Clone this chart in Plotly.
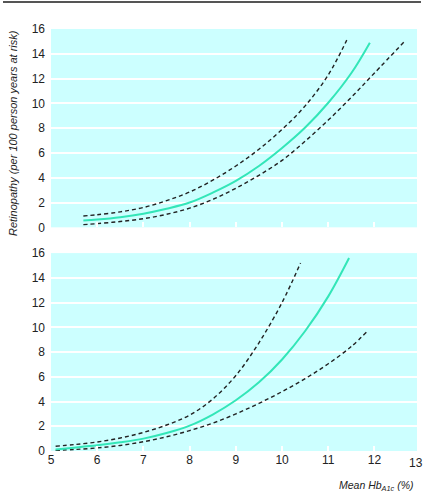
import plotly.graph_objects as go

# ---- data ----
x_ticks = [5, 6, 7, 8, 9, 10, 11, 12, 13]
y_ticks = [0, 2, 4, 6, 8, 10, 12, 14, 16]

top_mid_x = [5.7, 6.0, 6.5, 7.0, 7.5, 8.0, 8.5, 9.0, 9.5, 10.0, 10.5, 11.0, 11.5, 11.9]
top_mid_y = [0.55, 0.63, 0.82, 1.1, 1.5, 2.0, 2.8, 3.75, 4.95, 6.4, 8.05, 10.05, 12.45, 14.9]
top_up_x = [5.7, 6.0, 6.5, 7.0, 7.5, 8.0, 8.5, 9.0, 9.5, 10.0, 10.5, 11.0, 11.4]
top_up_y = [0.92, 1.02, 1.25, 1.6, 2.15, 2.85, 3.8, 4.95, 6.3, 7.9, 9.8, 12.3, 15.1]
top_lo_x = [5.7, 6.0, 6.5, 7.0, 7.5, 8.0, 8.5, 9.0, 9.5, 10.0, 10.5, 11.0, 11.5, 12.0, 12.65]
top_lo_y = [0.22, 0.3, 0.47, 0.7, 1.05, 1.55, 2.25, 3.15, 4.2, 5.4, 6.95, 8.65, 10.5, 12.45, 15.0]

bot_mid_x = [5.1, 5.5, 6.0, 6.5, 7.0, 7.5, 8.0, 8.5, 9.0, 9.5, 10.0, 10.5, 11.0, 11.45]
bot_mid_y = [0.13, 0.27, 0.46, 0.7, 1.0, 1.45, 2.05, 2.95, 4.1, 5.55, 7.4, 9.7, 12.5, 15.6]
bot_up_x = [5.1, 5.5, 6.0, 6.5, 7.0, 7.5, 8.0, 8.5, 9.0, 9.5, 10.0, 10.4]
bot_up_y = [0.38, 0.52, 0.73, 1.05, 1.5, 2.1, 2.9, 4.2, 6.1, 8.75, 12.0, 15.2]
bot_lo_x = [5.1, 5.5, 6.0, 6.5, 7.0, 7.5, 8.0, 8.5, 9.0, 9.5, 10.0, 10.5, 11.0, 11.5, 11.85]
bot_lo_y = [0.05, 0.12, 0.25, 0.45, 0.75, 1.15, 1.65, 2.25, 3.0, 3.85, 4.8, 5.85, 7.05, 8.45, 9.7]

y_title = "Retinopathy (per 100 person years at risk)"
x_title = "<i>Mean Hb<sub>A1c</sub> (%)</i>"

# ---- styles ----
FONT = "Liberation Sans, Arial, sans-serif"
BG = "#ccffff"
MID = "#33e6b8"
DASH = "#222222"

fig = go.Figure()

def add(xs, ys, axis, mid):
    if mid:
        line = dict(color=MID, width=2, shape="spline", smoothing=1)
    else:
        line = dict(color=DASH, width=1.4, dash="4px,3px", shape="spline", smoothing=1)
    fig.add_trace(go.Scatter(x=xs, y=ys, mode="lines", line=line,
                             xaxis="x" if axis == 1 else "x2",
                             yaxis="y" if axis == 1 else "y2",
                             showlegend=False, hoverinfo="skip"))

add(top_up_x, top_up_y, 1, False)
add(top_lo_x, top_lo_y, 1, False)
add(top_mid_x, top_mid_y, 1, True)
add(bot_up_x, bot_up_y, 2, False)
add(bot_lo_x, bot_lo_y, 2, False)
add(bot_mid_x, bot_mid_y, 2, True)

xr = [5, 12.92]
common_x = dict(range=xr, tickvals=x_ticks, showgrid=False, zeroline=False,
                showline=False, ticks="inside", ticklen=5, tickcolor="white",
                tickwidth=1.5, automargin=False,
                tickfont=dict(family=FONT, size=12, color="#222"))
common_y = dict(range=[0, 16], tickvals=y_ticks, showgrid=True, gridcolor="white",
                gridwidth=1.5, zeroline=False, showline=False, ticks="",
                ticklabelstandoff=5, automargin=False,
                tickfont=dict(family=FONT, size=12, color="#222"))

fig.update_layout(
    template="none",
    width=424, height=502,
    margin=dict(l=51, r=7, t=29, b=51, autoexpand=False),
    paper_bgcolor="white", plot_bgcolor=BG,
    font=dict(family=FONT, size=12, color="#222"),
    xaxis=dict(domain=[0, 1], anchor="y", showticklabels=False, **common_x),
    yaxis=dict(domain=[0.530, 1.0], anchor="x", **common_y),
    xaxis2=dict(domain=[0, 1], anchor="y2", showticklabels=True, **common_x),
    yaxis2=dict(domain=[0.0, 0.469], anchor="x2", **common_y),
)

# top rule
fig.add_shape(type="line", xref="paper", yref="paper",
              x0=(3 - 51) / 366, x1=(421 - 51) / 366,
              y0=(451 - 2) / 422, y1=(451 - 2) / 422,
              line=dict(color="#555555", width=2))

# last tick label (13) sits at the edge of the shaded area
fig.add_annotation(text="13", xref="paper", yref="paper",
                   x=(416 - 51) / 366, y=-(462.5 - 451) / 422,
                   xanchor="center", yanchor="middle", showarrow=False,
                   font=dict(family=FONT, size=12, color="#222"))

fig.add_annotation(text="<i>" + y_title + "</i>", xref="paper", yref="paper",
                   x=(12.5 - 51) / 366, y=(451 - 133.5) / 422, textangle=-90,
                   xanchor="center", yanchor="middle", showarrow=False,
                   font=dict(family=FONT, size=11, color="#222"))

fig.add_annotation(text=x_title, xref="paper", yref="paper",
                   x=(416 - 51) / 366, y=-(486 - 451) / 422,
                   xanchor="right", yanchor="middle", showarrow=False,
                   font=dict(family=FONT, size=10.5, color="#222"))

fig.write_html("out.html", config={"displayModeBar": False},
               post_script="document.body.style.margin='0';document.body.style.padding='0';")
